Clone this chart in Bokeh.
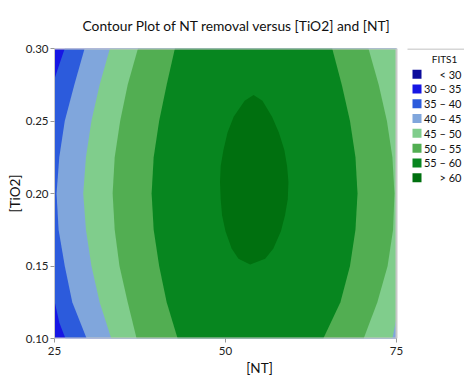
from bokeh.plotting import figure
from bokeh.models import Range1d, FixedTicker, NumeralTickFormatter
from bokeh.core.properties import value
from bokeh.embed import file_html
from bokeh.resources import INLINE

# ---------------- data ----------------
TITLE = "Contour Plot of NT removal versus [TiO2] and [NT]"
X_LABEL = "[NT]"
Y_LABEL = "[TiO2]"
X_TICKS = [25, 50, 75]
Y_TICKS = [0.10, 0.15, 0.20, 0.25, 0.30]
X_MIN, X_MAX = 25, 75
Y_MIN, Y_MAX = 0.10, 0.30

LEGEND_TITLE = "FITS1"
LEVEL_LABELS = ["< 30", "30 – 35", "35 – 40", "40 – 45",
                "45 – 50", "50 – 55", "55 – 60", "> 60"]
LEVEL_COLORS = ["#0c0c9c", "#1616e4", "#2c5bdc", "#80a6dc",
                "#80cd8c", "#52ae52", "#07861f", "#00700f"]

# contour boundaries ([NT] positions at given [TiO2] values)
Y_SAMPLES = [0.30, 0.275, 0.25, 0.225, 0.20, 0.175, 0.15, 0.125, 0.10]
C40_LEFT_X = [29.4, 27.9, 26.5, 25.7, 25.3, 25.6, 26.5, 27.6, 29.7]
C45_LEFT_X = [33.1, 31.6, 30.4, 29.6, 29.2, 29.6, 30.4, 31.6, 33.3]
C50_LEFT_X = [37.2, 35.7, 34.6, 33.8, 33.5, 33.8, 34.5, 35.7, 37.0]
C50_RIGHT_X = [70.9, 72.4, 73.6, 74.4, 74.7, 74.5, 73.7, 72.2, 70.2]
C55_LEFT_X = [42.6, 41.4, 40.3, 39.5, 39.2, 39.5, 40.3, 41.4, 43.0]
C55_RIGHT_X = [65.6, 67.0, 68.2, 69.0, 69.3, 69.0, 68.2, 66.8, 64.3]

C35_TOP_X = [26.5, 25.7, 25.0]
C35_TOP_Y = [0.300, 0.289, 0.279]
C35_BOTTOM_X = [25.0, 25.7, 26.6]
C35_BOTTOM_Y = [0.126, 0.111, 0.100]
C45_CORNER_X = [74.4, 75.0]
C45_CORNER_Y = [0.100, 0.114]

C60_X = [54.1, 55.4, 56.8, 57.8, 58.6, 59.0, 59.2, 59.1, 58.7, 58.1, 57.0, 55.8,
         53.6, 51.9, 50.9, 50.0, 49.5, 49.3, 49.2, 49.3, 49.7, 50.3, 51.2, 52.8]
C60_Y = [0.268, 0.264, 0.253, 0.242, 0.230, 0.219, 0.208, 0.196, 0.185, 0.174, 0.162, 0.155,
         0.151, 0.155, 0.162, 0.174, 0.185, 0.196, 0.208, 0.219, 0.230, 0.242, 0.253, 0.264]

FONT = "Lato"

# ---------------- layout (pixels) ----------------
FIG_W, FIG_H = 464, 384
BORDER_L, BORDER_T, BORDER_B = 54, 44, 46
PLOT_W = 342                       # width of the contour area in px
PLOT_H = FIG_H - BORDER_T - BORDER_B
LEGEND_W = FIG_W - BORDER_L - PLOT_W
px_per_x = PLOT_W / (X_MAX - X_MIN)
px_per_y = PLOT_H / (Y_MAX - Y_MIN)
X_VIEW_MAX = X_MAX + LEGEND_W / px_per_x   # the frame also hosts the legend


def sx(px):   # canvas px -> data x
    return X_MIN + (px - BORDER_L) / px_per_x


def sy(py):   # canvas px -> data y
    return Y_MAX - (py - BORDER_T) / px_per_y


# ---------------- regions (layered, z above each level) ----------------
region_xs = [
    [X_MIN, X_MIN, X_MAX, X_MAX],
    C35_TOP_X[::-1] + [X_MAX, X_MAX] + C35_BOTTOM_X[::-1],
    C40_LEFT_X + [X_MAX, X_MAX],
    C45_LEFT_X + C45_CORNER_X + [X_MAX],
    C50_LEFT_X + C50_RIGHT_X[::-1],
    C55_LEFT_X + C55_RIGHT_X[::-1],
    C60_X,
]
region_ys = [
    [Y_MIN, Y_MAX, Y_MAX, Y_MIN],
    C35_TOP_Y[::-1] + [Y_MAX, Y_MIN] + C35_BOTTOM_Y[::-1],
    Y_SAMPLES + [Y_MIN, Y_MAX],
    Y_SAMPLES + C45_CORNER_Y + [Y_MAX],
    Y_SAMPLES + Y_SAMPLES[::-1],
    Y_SAMPLES + Y_SAMPLES[::-1],
    C60_Y,
]
region_colors = LEVEL_COLORS[1:]

p = figure(width=FIG_W, height=FIG_H, output_backend="svg", toolbar_location=None,
           x_range=Range1d(X_MIN, X_VIEW_MAX), y_range=Range1d(Y_MIN, Y_MAX),
           min_border_left=BORDER_L, min_border_right=0, min_border_top=BORDER_T,
           min_border_bottom=BORDER_B)

p.patches(xs=region_xs, ys=region_ys, fill_color=region_colors,
          line_color=None)
# border of the contour area (top, right, bottom)
p.line(x=[X_MIN, X_MAX, X_MAX, X_MIN], y=[Y_MAX, Y_MAX, Y_MIN, Y_MIN],
       line_color="#c8c8c8", line_width=2)

p.title.text = TITLE
p.title.align = "left"
p.title.offset = 28
p.title.standoff = 29
p.title.text_font = FONT
p.title.text_font_size = "13.8px"
p.title.text_font_style = "normal"
p.title.text_color = "#111111"

p.grid.visible = False
p.outline_line_color = None
p.xaxis.ticker = FixedTicker(ticks=X_TICKS)
p.yaxis.ticker = FixedTicker(ticks=Y_TICKS)
p.yaxis.formatter = NumeralTickFormatter(format="0.00")
p.xaxis.axis_label = X_LABEL
p.yaxis.axis_label = Y_LABEL
for ax in p.axis:
    ax.axis_line_color = "#c8c8c8"
    ax.major_tick_line_color = "#999999"
    ax.major_tick_out = 4
    ax.major_tick_in = 0
    ax.minor_tick_line_color = None
    ax.major_label_text_font = FONT
    ax.major_label_text_font_size = "11.5px"
    ax.major_label_text_color = "#222222"
    ax.axis_label_text_font = FONT
    ax.axis_label_text_font_size = "13.5px"
    ax.axis_label_text_font_style = "normal"
    ax.axis_label_text_color = "#111111"
p.xaxis.axis_line_color = None
p.yaxis.major_label_standoff = 2
p.yaxis.axis_label_standoff = 0
p.xaxis.major_label_standoff = 4
p.xaxis.axis_label_standoff = 2

# ---------------- legend (drawn in the area right of the contours) ----------------
n = len(LEVEL_LABELS)
row_py = [70 + 15 * i for i in range(n)]
p.line(x=[sx(407), X_VIEW_MAX], y=[Y_MAX, Y_MAX], line_color="#d6d6d6", line_width=3)
p.text(x=[sx(444)], y=[sy(55)], text=[LEGEND_TITLE], text_font=value(FONT),
       text_font_size="10px", text_align="center", text_baseline="middle",
       text_color="#111111")
p.rect(x=[sx(416.5)] * n, y=[sy(v) for v in row_py], width=9, height=9,
       width_units="screen", height_units="screen",
       fill_color=LEVEL_COLORS, line_color=None)
p.text(x=[sx(461)] * n, y=[sy(v) for v in row_py], text=LEVEL_LABELS,
       text_font=value(FONT), text_font_size="11px", text_align="right",
       text_baseline="middle", text_color="#111111")

open("out.html", "w").write(file_html(p, INLINE))
